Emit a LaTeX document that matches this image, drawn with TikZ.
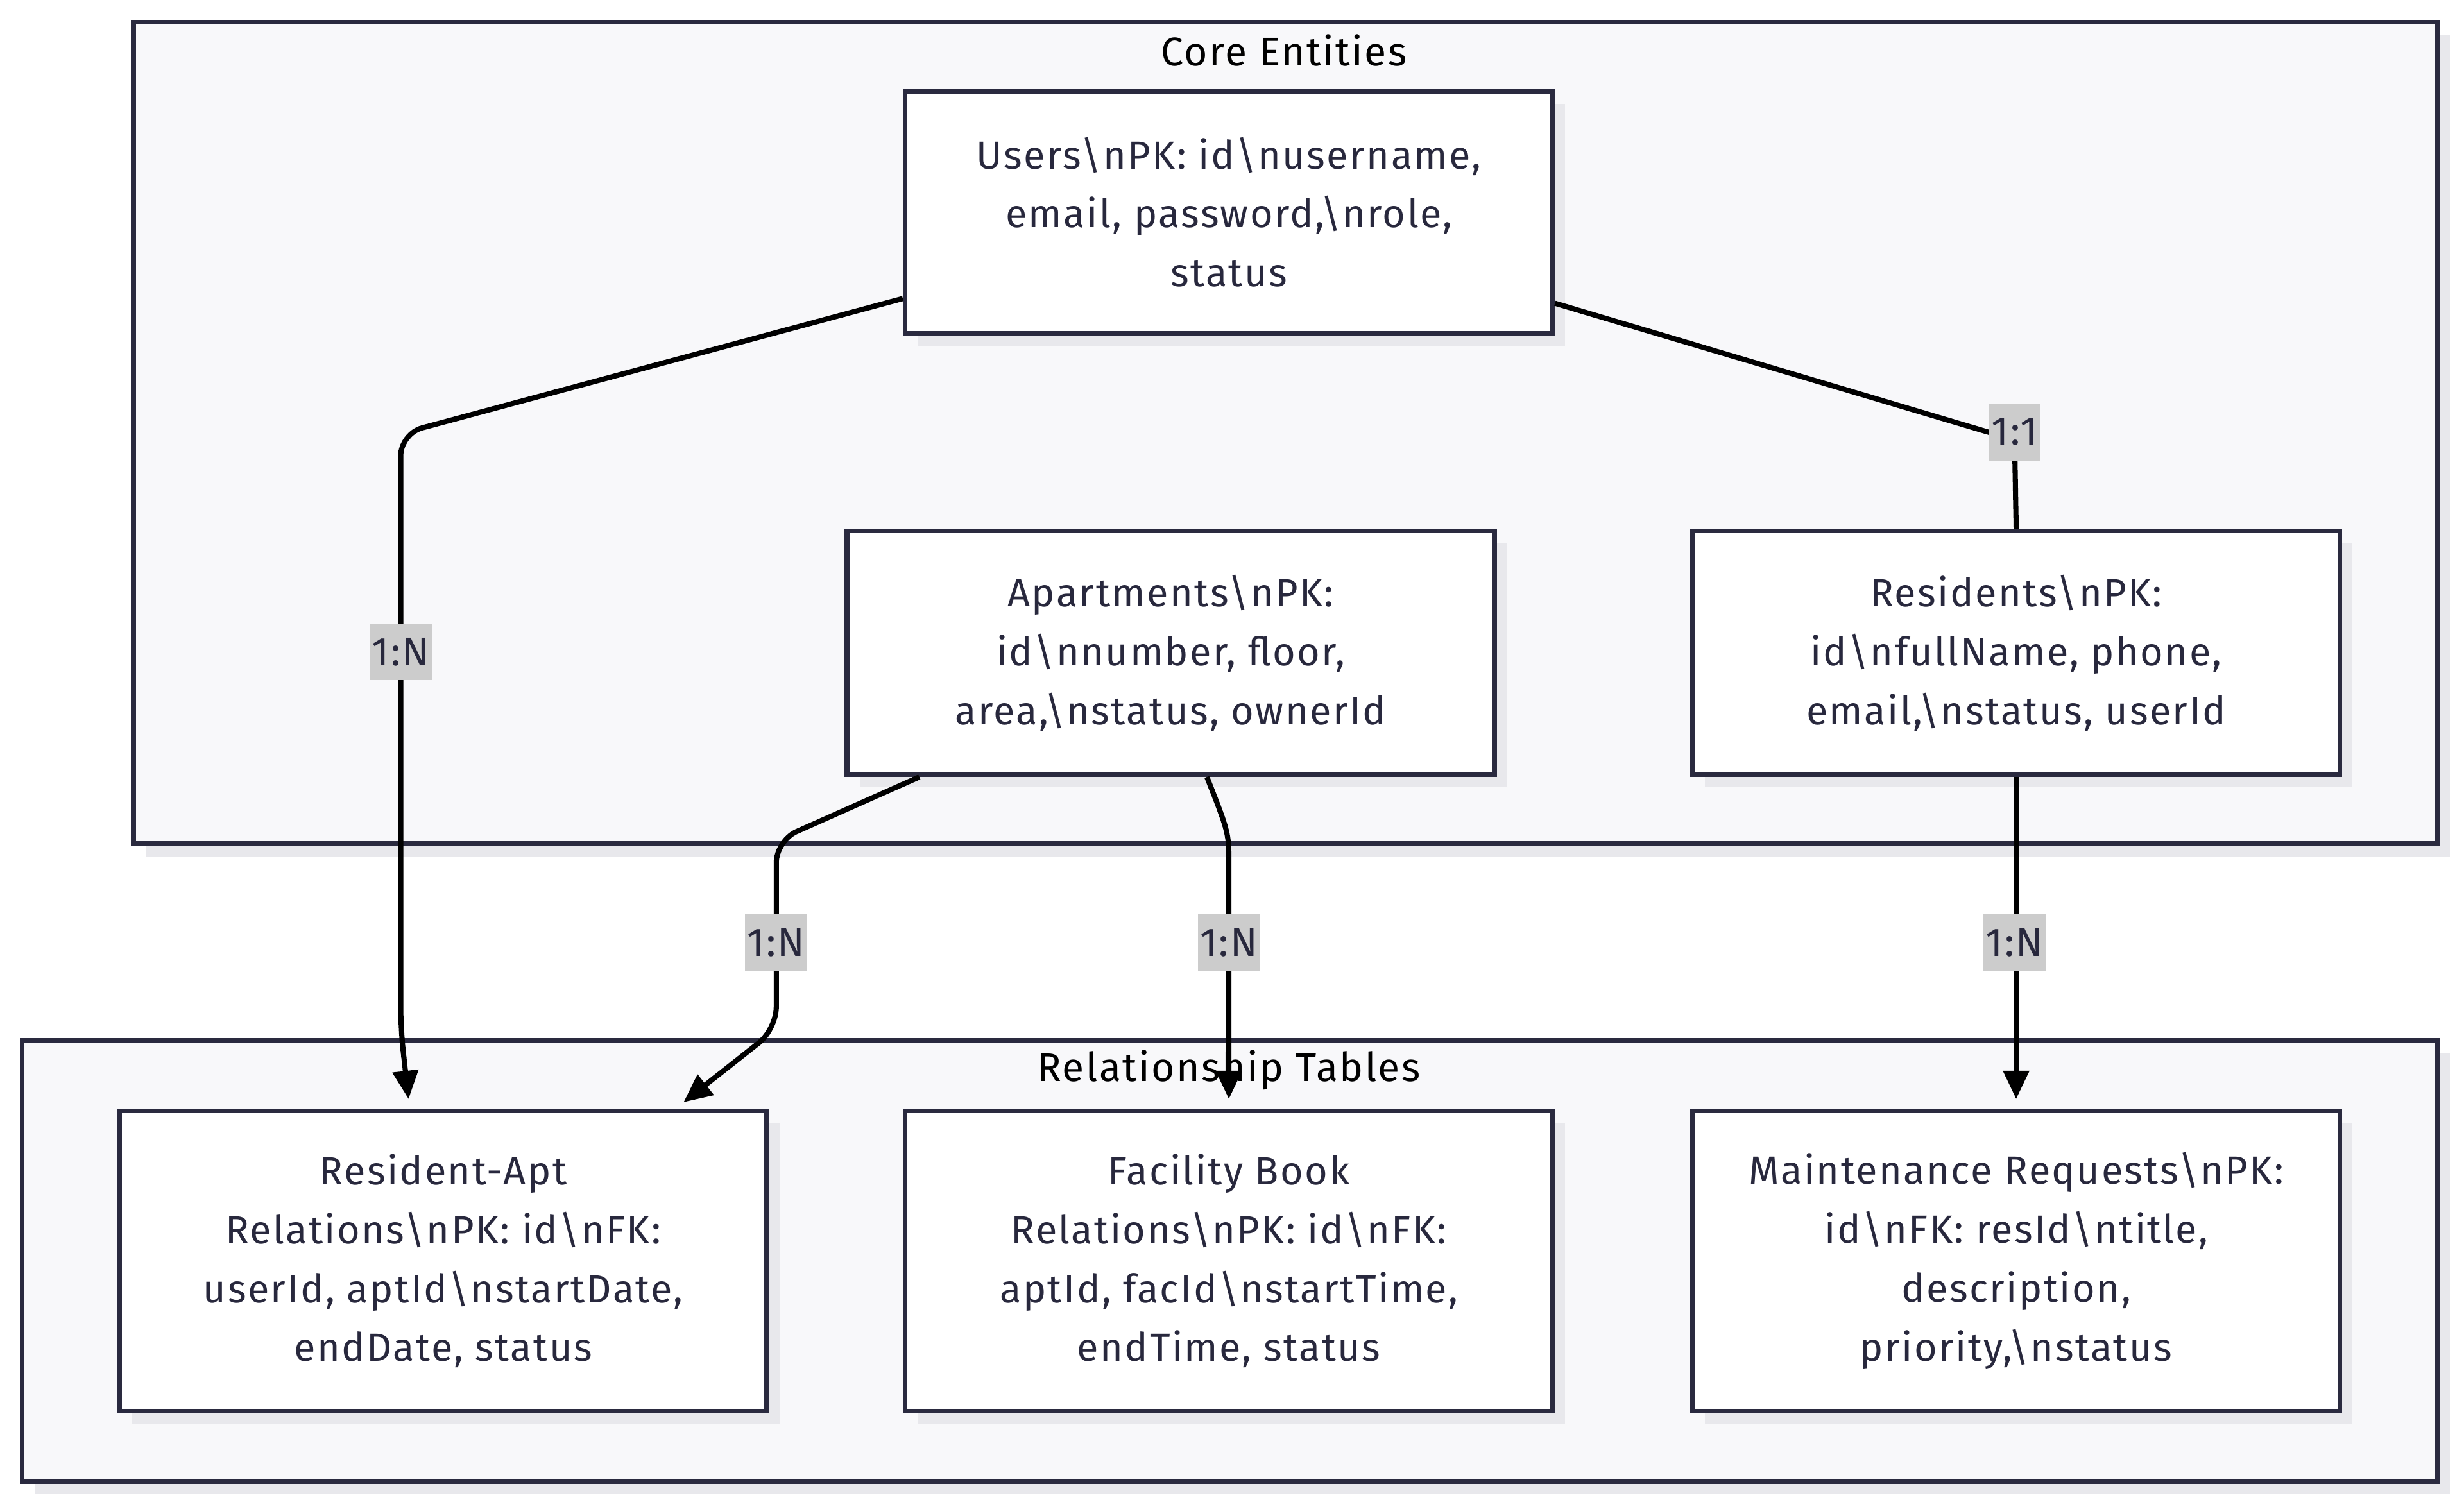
\documentclass[tikz,border=0pt]{standalone}
\usepackage{fontspec}
\setmainfont[LetterSpace=4]{Fira Sans}
\usetikzlibrary{arrows.meta,shadows}
\definecolor{ink}{HTML}{28283D}
\definecolor{frame}{HTML}{2A2A3F}
\definecolor{clusterfill}{HTML}{F8F8FA}
\definecolor{shadowgray}{HTML}{E8E8EC}
\definecolor{labelgray}{HTML}{CCCCCC}
\tikzset{
  shad/.style={drop shadow={shadow xshift=8pt,shadow yshift=-8pt,fill=shadowgray,opacity=1}},
  cluster/.style={draw=frame,line width=3pt,fill=clusterfill,shad},
  entity/.style={draw=frame,line width=3pt,fill=white,shad,minimum width=412pt,align=center,text=ink,
     font=\fontsize{25}{37.5}\selectfont,inner sep=0pt},
  ctitle/.style={text=black,font=\fontsize{25.5}{28}\selectfont,inner sep=0pt},
  edge/.style={draw=black,line width=3.3pt,rounded corners=14pt},
  arr/.style={-{Triangle[length=18pt,width=16pt]}},
  rel/.style={fill=labelgray,text=ink,font=\fontsize{25.5}{28}\selectfont,inner xsep=1.5pt,inner ysep=0pt,minimum height=36pt}
}
\newcommand{\bs}{\textbackslash}
\begin{document}
\begin{tikzpicture}[x=1pt,y=-1pt]
\useasboundingbox[fill=white] (0,0) rectangle (1568,960.4);
% clusters
\path[cluster] (85,14) rectangle (1551,537);
\path[cluster] (14,662) rectangle (1551,943);
\node[ctitle] (coret) at (817,32) {Core Entities};
\node[ctitle] (relt) at (782,681) {Relationship Tables};
% entities
\node[entity,minimum height=154pt] (users) at (782,135) {Users\bs nPK: id\bs nusername,\\email, password,\bs nrole,\\status};
\node[entity,minimum height=155pt] (apt) at (745,415.5) {Apartments\bs nPK:\\id\bs nnumber, floor,\\area,\bs nstatus, ownerId};
\node[entity,minimum height=155pt] (res) at (1283,415.5) {Residents\bs nPK:\\id\bs nfullName, phone,\\email,\bs nstatus, userId};
\node[entity,minimum height=191pt] (ra) at (282,802.5) {Resident-Apt\\Relations\bs nPK: id\bs nFK:\\userId, aptId\bs nstartDate,\\endDate, status};
\node[entity,minimum height=191pt] (fb) at (782,802.5) {Facility Book\\Relations\bs nPK: id\bs nFK:\\aptId, facId\bs nstartTime,\\endTime, status};
\node[entity,minimum height=191pt] (mr) at (1283,802.5) {Maintenance Requests\bs nPK:\\id\bs nFK: resId\bs ntitle,\\description,\\priority,\bs nstatus};
% edges
\draw[edge,arr] ([yshift=-55pt]users.west) -- (255,276) -- (255,655) -- ([xshift=-22pt,yshift=6pt]ra.north);
\draw[edge] ([yshift=-58pt]users.east) -- (1282,280) -- (res.north);
\draw[edge,arr] ([xshift=-160pt]apt.south) -- (494,535) -- (494,655) -- ([xshift=153pt,yshift=4pt]ra.north);
\draw[edge,arr] ([xshift=23pt]apt.south) .. controls (782,530) .. (782,565) -- ([yshift=6pt]fb.north);
\draw[edge,arr] (res.south) -- ([yshift=6pt]mr.north);
% labels
\node[rel] (l1) at (255,415) {1:N};
\node[rel] (l2) at (1282,275) {1:1};
\node[rel] (l3) at (494,600) {1:N};
\node[rel] (l4) at (782,600) {1:N};
\node[rel] (l5) at (1282,600) {1:N};
\end{tikzpicture}
\end{document}
